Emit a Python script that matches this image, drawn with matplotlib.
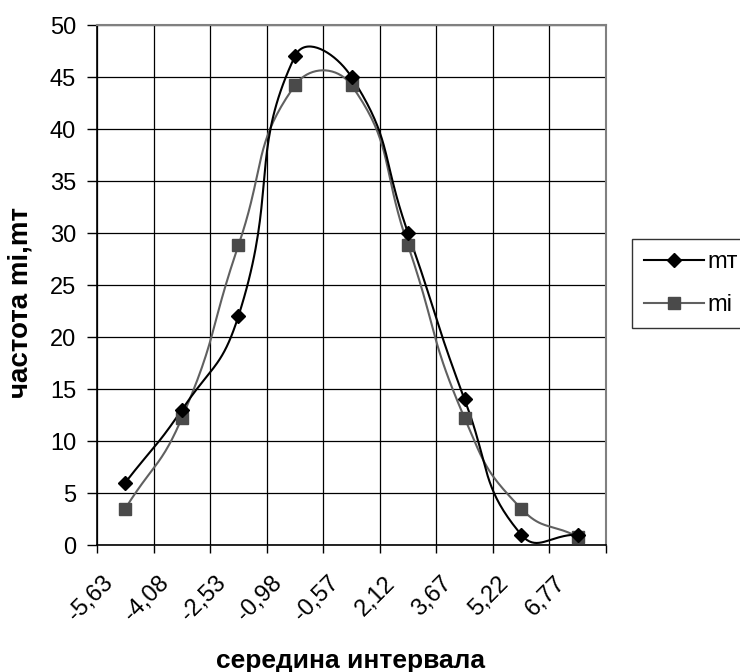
import numpy as np
import matplotlib.pyplot as plt
from matplotlib.transforms import ScaledTranslation

plt.rcParams['font.family'] = ['Liberation Sans', 'DejaVu Sans']

categories = ['-5,63', '-4,08', '-2,53', '-0,98', '-0,57', '2,12', '3,67', '5,22', '6,77']
mt_vals = [6, 13, 22, 47, 45, 30, 14, 1, 1]
mi_vals = [3.5, 12.2, 28.8, 44.2, 44.2, 28.8, 12.2, 3.5, 0.8]

# px per unit on screen, used so the smoothing behaves like Excel's
PX_X = 509 / 9
PX_Y = 520 / 50


def smoothCurve(xs, ys, nPer=40, tension=0.5):
    # Bezier smoothing with arm lengths weighted by neighbouring segment lengths
    pts = np.column_stack([np.asarray(xs) * PX_X, np.asarray(ys) * PX_Y]).astype(float)
    n = len(pts)
    out = [pts[0]]
    t = np.linspace(0, 1, nPer)[1:, None]
    for i in range(n - 1):
        p0 = pts[i]
        p3 = pts[i + 1]
        prev = pts[i - 1] if i > 0 else pts[i]
        nxt = pts[i + 2] if i + 2 < n else pts[i + 1]
        dPrev = np.hypot(*(p0 - prev))
        dCur = np.hypot(*(p3 - p0))
        dNext = np.hypot(*(nxt - p3))
        c1 = p0 + (p3 - prev) * tension * dCur / (dPrev + dCur)
        c2 = p3 - (nxt - p0) * tension * dCur / (dCur + dNext)
        seg = ((1 - t) ** 3) * p0 + 3 * ((1 - t) ** 2) * t * c1 + 3 * (1 - t) * t ** 2 * c2 + t ** 3 * p3
        out.extend(seg)
    out = np.array(out)
    return out[:, 0] / PX_X, out[:, 1] / PX_Y


fig = plt.figure(figsize=(7.4, 6.72), dpi=100)
ax = fig.add_axes([97 / 740, 1 - 545 / 672, 509 / 740, 520 / 672])

xPos = np.arange(len(categories)) + 0.5
lineGray = '#606060'
markGray = '#4a4a4a'

sx, sy = smoothCurve(xPos, mt_vals)
ax.plot(sx, sy, color='black', lw=1.5, zorder=3, clip_on=False)
ax.plot(xPos, mt_vals, ls='none', marker='D', ms=7.5, color='black', zorder=4, clip_on=False)
sx, sy = smoothCurve(xPos, mi_vals)
ax.plot(sx, sy, color=lineGray, lw=1.5, zorder=2, clip_on=False)
ax.plot(xPos, mi_vals, ls='none', marker='s', ms=8.5, color=markGray, zorder=3, clip_on=False)

# legend handles
hMt, = ax.plot([], [], color='black', lw=1.5, marker='D', ms=7.5, label='mт')
hMi, = ax.plot([], [], color=lineGray, lw=1.5, marker='s', ms=8.5, markerfacecolor=markGray,
               markeredgecolor=markGray, label='mi')

ax.set_xlim(0, len(categories))
ax.set_ylim(0, 50)
ax.set_yticks(np.arange(0, 51, 5))
ax.set_xticks(np.arange(0, len(categories) + 1))
ax.set_xticklabels([])
ax.set_xticks(xPos, categories, minor=True)
ax.tick_params(axis='x', which='minor', length=0, labelsize=17, pad=8)
ax.tick_params(axis='x', which='major', length=6, direction='out', width=1)
ax.tick_params(axis='y', length=7, direction='out', width=1, labelsize=17, pad=8)
for lbl in ax.get_xticklabels(minor=True):
    lbl.set_rotation(45)
    lbl.set_rotation_mode('anchor')
    lbl.set_ha('right')
    lbl.set_va('center')
    lbl.set_transform(lbl.get_transform() + ScaledTranslation(-16 / 100, -24 / 100, fig.dpi_scale_trans))

ax.grid(True, color='black', lw=0.9)
ax.set_axisbelow(True)
for side in ['top', 'right']:
    ax.spines[side].set_color('#808080')
    ax.spines[side].set_linewidth(1.5)
for side in ['left', 'bottom']:
    ax.spines[side].set_color('black')
    ax.spines[side].set_linewidth(1.2)

fig.text(351 / 740, 1 - 661 / 672, 'середина интервала', ha='center', va='center',
         fontsize=19, fontweight='bold')
fig.text(21 / 740, 1 - 302 / 672, 'частота mi,mт', ha='center', va='center',
         rotation=90, fontsize=20, fontweight='bold')

leg = fig.legend(handles=[hMt, hMi], loc='upper left', bbox_to_anchor=(632 / 740, 1 - 239 / 672),
                 borderaxespad=0, fancybox=False, frameon=True, fontsize=17,
                 handlelength=2.55, handletextpad=0.15, labelspacing=0.9, borderpad=0.5)
leg.get_frame().set_edgecolor('black')
leg.get_frame().set_linewidth(1)

fig.savefig('out.png', dpi=100)
